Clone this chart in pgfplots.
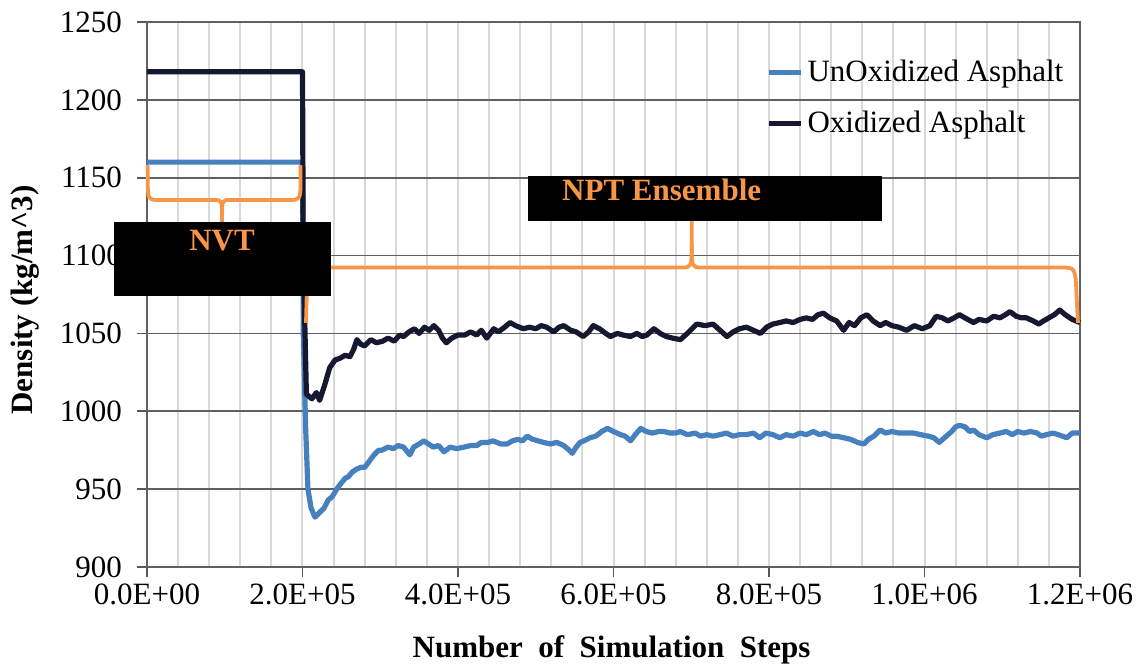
\documentclass[border=0pt]{standalone}
\usepackage{fontspec}
\setmainfont{Liberation Serif}
\usepackage{pgfplots}
\pgfplotsset{compat=1.18}
\definecolor{unox}{RGB}{70,128,190}
\definecolor{oxid}{RGB}{22,24,48}
\definecolor{brorange}{RGB}{247,150,70}
\newcommand{\fs}{\fontsize{15.5}{18}\selectfont}
\begin{document}
\begin{tikzpicture}
\path[use as bounding box] (-73.5pt,-50pt) rectangle (500.5pt,283.5pt);
\begin{axis}[
  at={(0,0)}, anchor=south west,
  scale only axis, width=466.5pt, height=272.5pt,
  xmin=0, xmax=1200000, ymin=900, ymax=1250,
  xtick={0,200000,400000,600000,800000,1000000,1200000},
  xticklabels={0.0E+00,2.0E+05,4.0E+05,6.0E+05,8.0E+05,1.0E+06,1.2E+06},
  scaled x ticks=false,
  minor x tick num=4,
  ytick={900,950,...,1250},
  /pgf/number format/assume math mode=true,
  yticklabel style={/pgf/number format/1000 sep={}, xshift=-4pt},
  tick pos=left, tick align=outside,
  major tick length=5pt, minor tick length=0pt,
  tick style={gray!70!black, line width=0.8pt},
  xmajorgrids, xminorgrids, ymajorgrids,
  x grid style={gray!30, line width=1pt},
  y grid style={gray!75!black, line width=0.8pt},
  axis line style={gray!75!black, line width=0.8pt},
  tick label style={font=\fs},
  xlabel={\textbf{Number\ \ of\ \ Simulation\ \ Steps}},
  ylabel={\textbf{Density (kg/m\^{}3)}},
  label style={font=\fs},
  xlabel style={at={(axis description cs:0.498,-0.152)}, anchor=center},
  ylabel style={at={(axis description cs:-0.131,0.49)}, anchor=center},
  legend style={at={(axis description cs:0.657,0.945)}, anchor=north west,
    draw=none, fill=none, font=\fs, row sep=9pt, cells={anchor=west}},
  legend image code/.code={\draw[#1] (0pt,0pt) -- (16pt,0pt);},
  legend cell align=left,
  clip=false,
]
\addplot[unox, line width=2.6pt, line join=round] coordinates {
(0,1160)(200000,1160)(201000,1050)(204000,990)(207000,950)(211000,938)(216000,932)(222000,935)(228000,938)(233000,943)(238000,945)(244000,950)(250000,954)(255000,957)(259000,958)(264000,961)(270000,963)(275000,964)(280000,964)(286000,968)(292000,972)(298000,975)(302000,975)(310000,977)(317000,976)(323000,978)(330000,977)(338000,972)(343000,977)(350000,979)(356000,981)(362000,979)(368000,977)(375000,978)(382000,974)(390000,977)(398000,976)(408000,977)(416000,978)(424000,978)(430000,980)(438000,980)(445000,981)(455000,979)(463000,979)(470000,981)(477000,982)(483000,981)(489000,984)(496000,982)(503000,981)(510000,980)(519000,979)(527000,980)(536000,978)(543000,975)(547000,973)(552000,977)(557000,980)(562000,981)(570000,983)(577000,984)(585000,987)(592000,989)(600000,987)(609000,985)(615000,984)(622000,981)(628000,985)(635000,989)(642000,987)(650000,986)(658000,987)(665000,987)(673000,986)(680000,986)(686000,987)(695000,985)(705000,986)(712000,984)(720000,985)(728000,984)(737000,985)(745000,986)(754000,984)(762000,985)(771000,985)(780000,986)(788000,983)(796000,986)(805000,985)(814000,983)(822000,985)(831000,984)(840000,986)(848000,985)(857000,987)(865000,985)(872000,986)(880000,984)(887000,984)(896000,983)(905000,982)(914000,980)(922000,979)(928000,982)(935000,984)(943000,988)(950000,986)(958000,987)(967000,986)(977000,986)(986000,986)(995000,985)(1005000,984)(1012000,983)(1019000,980)(1028000,984)(1035000,987)(1040000,990)(1045000,991)(1052000,990)(1058000,987)(1063000,988)(1070000,985)(1080000,983)(1088000,985)(1097000,986)(1105000,987)(1113000,985)(1120000,987)(1128000,986)(1136000,987)(1145000,986)(1150000,984)(1157000,985)(1165000,986)(1172000,985)(1183000,983)(1190000,986)(1200000,986)
};
\addlegendentry{UnOxidized Asphalt}
\addplot[oxid, line width=2.6pt, line join=round] coordinates {
(0,1218)(200000,1218)(201000,1100)(205000,1011)(212000,1008)(218000,1012)(222000,1007)(228000,1016)(235000,1028)(242000,1033)(248000,1034)(255000,1036)(261000,1035)(266000,1040)(270000,1046)(275000,1043)(280000,1042)(288000,1046)(295000,1044)(303000,1045)(310000,1047)(318000,1045)(325000,1049)(330000,1048)(337000,1051)(344000,1053)(350000,1050)(357000,1054)(363000,1052)(369000,1055)(375000,1052)(380000,1047)(385000,1044)(392000,1047)(400000,1049)(409000,1049)(416000,1051)(424000,1049)(430000,1052)(437000,1047)(446000,1053)(452000,1051)(460000,1054)(467000,1057)(474000,1055)(484000,1053)(492000,1054)(500000,1053)(507000,1055)(514000,1054)(523000,1051)(530000,1054)(536000,1055)(545000,1052)(552000,1051)(561000,1048)(568000,1051)(574000,1055)(582000,1053)(590000,1050)(596000,1048)(605000,1050)(612000,1049)(622000,1048)(630000,1050)(637000,1048)(643000,1049)(652000,1053)(660000,1050)(668000,1048)(676000,1047)(686000,1046)(695000,1050)(707000,1056)(718000,1055)(728000,1056)(737000,1052)(746000,1048)(754000,1051)(762000,1053)(771000,1054)(780000,1052)(789000,1050)(797000,1054)(805000,1056)(814000,1057)(822000,1058)(831000,1057)(840000,1059)(848000,1060)(856000,1059)(863000,1062)(870000,1063)(878000,1060)(887000,1058)(896000,1052)(903000,1057)(910000,1055)(918000,1060)(926000,1062)(934000,1058)(943000,1055)(950000,1057)(958000,1055)(967000,1054)(977000,1052)(987000,1055)(997000,1053)(1007000,1055)(1015000,1061)(1023000,1060)(1030000,1058)(1038000,1060)(1045000,1062)(1052000,1060)(1063000,1057)(1070000,1059)(1080000,1058)(1089000,1061)(1097000,1060)(1104000,1062)(1110000,1064)(1118000,1061)(1125000,1060)(1131000,1060)(1140000,1058)(1147000,1056)(1153000,1058)(1160000,1060)(1167000,1062)(1174000,1065)(1181000,1062)(1190000,1059)(1200000,1057)
};
\addlegendentry{Oxidized Asphalt}
% NVT brace
\draw[brorange, line width=1.9pt] (axis cs:1000,1158) -- (axis cs:1000,1150) .. controls (axis cs:1000,1135.7) .. (axis cs:15000,1135.7) -- (axis cs:86000,1135.7) .. controls (axis cs:96500,1135.7) .. (axis cs:96500,1124) -- (axis cs:96500,1121.5);
\draw[brorange, line width=1.9pt] (axis cs:96500,1124) .. controls (axis cs:96500,1135.7) .. (axis cs:107000,1135.7) -- (axis cs:183000,1135.7) .. controls (axis cs:197500,1135.7) .. (axis cs:197500,1150) -- (axis cs:197500,1158);
% NPT brace
\draw[brorange, line width=1.9pt] (axis cs:204500,1056.7) -- (axis cs:205500,1075) .. controls (axis cs:207000,1092.3) .. (axis cs:225000,1092.3) -- (axis cs:687000,1092.3) .. controls (axis cs:700600,1092.3) .. (axis cs:700600,1108) -- (axis cs:700600,1122.2);
\draw[brorange, line width=1.9pt] (axis cs:700600,1108) .. controls (axis cs:700600,1092.3) .. (axis cs:714000,1092.3) -- (axis cs:1176000,1092.3) .. controls (axis cs:1194000,1092.3) .. (axis cs:1195500,1075) -- (axis cs:1197400,1056.7);
% boxes
\fill[black] (axis cs:-42400,1074) rectangle (axis cs:236700,1121.5);
\node[text=brorange, font=\fs\bfseries, anchor=north] at (axis cs:96500,1121) {NVT};
\fill[black] (axis cs:490000,1122.2) rectangle (axis cs:945300,1151);
\node[text=brorange, font=\fs\bfseries] at (axis cs:662000,1142) {NPT Ensemble};
\end{axis}
\end{tikzpicture}
\end{document}
